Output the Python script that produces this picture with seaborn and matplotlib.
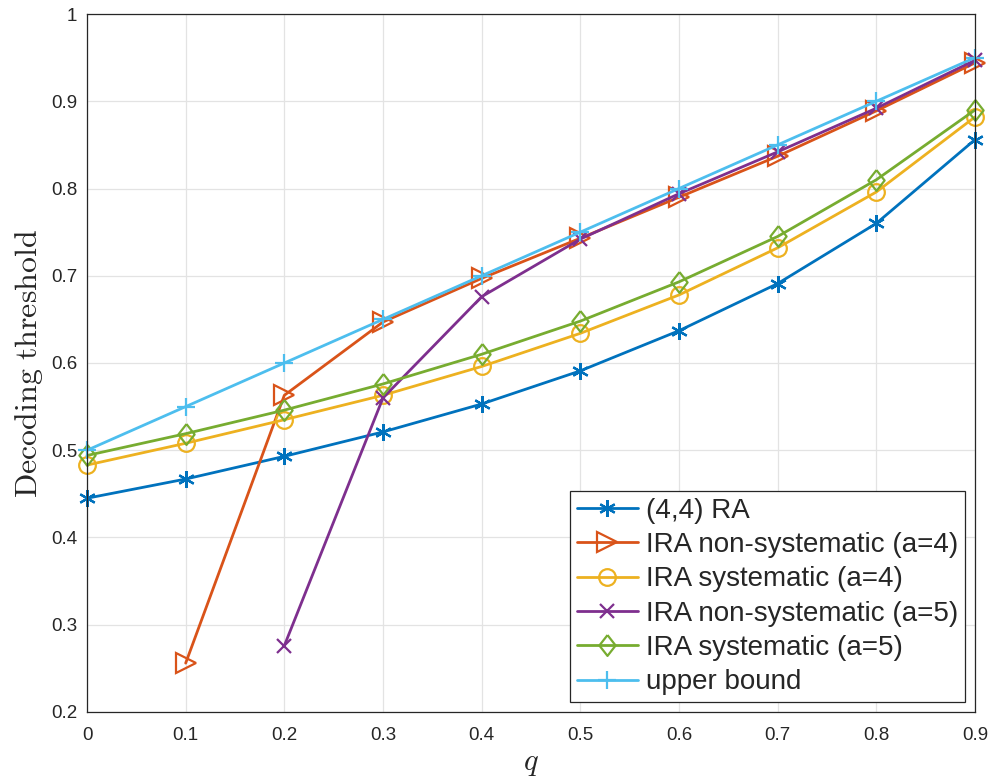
import matplotlib
matplotlib.use("Agg")
import matplotlib.pyplot as plt
import seaborn as sns
import numpy as np

# threshold values
q = [0.0, 0.1, 0.2, 0.3, 0.4, 0.5, 0.6, 0.7, 0.8, 0.9]
ra_44 = [0.445, 0.467, 0.493, 0.521, 0.553, 0.591, 0.637, 0.691, 0.760, 0.856]
q_nonsys4 = [0.1, 0.2, 0.3, 0.4, 0.5, 0.6, 0.7, 0.8, 0.9]
ira_nonsys4 = [0.256, 0.563, 0.647, 0.697, 0.743, 0.790, 0.837, 0.889, 0.944]
ira_sys4 = [0.483, 0.508, 0.535, 0.563, 0.596, 0.634, 0.678, 0.732, 0.796, 0.882]
q_nonsys5 = [0.2, 0.3, 0.4, 0.5, 0.6, 0.7, 0.8, 0.9]
ira_nonsys5 = [0.276, 0.560, 0.676, 0.742, 0.794, 0.842, 0.892, 0.947]
ira_sys5 = [0.494, 0.519, 0.546, 0.576, 0.610, 0.648, 0.693, 0.745, 0.810, 0.890]
upper = [0.50, 0.55, 0.60, 0.65, 0.70, 0.75, 0.80, 0.85, 0.90, 0.95]

labels = ["(4,4) RA", "IRA non-systematic (a=4)", "IRA systematic (a=4)",
          "IRA non-systematic (a=5)", "IRA systematic (a=5)", "upper bound"]
xticks = [0, 0.1, 0.2, 0.3, 0.4, 0.5, 0.6, 0.7, 0.8, 0.9]
xticklabels = ["0", "0.1", "0.2", "0.3", "0.4", "0.5", "0.6", "0.7", "0.8", "0.9"]
yticks = [0.2, 0.3, 0.4, 0.5, 0.6, 0.7, 0.8, 0.9, 1.0]
yticklabels = ["0.2", "0.3", "0.4", "0.5", "0.6", "0.7", "0.8", "0.9", "1"]

sns.set_style("whitegrid")
plt.rcParams["font.family"] = ["Liberation Sans", "DejaVu Sans"]
plt.rcParams["mathtext.fontset"] = "cm"

fig = plt.figure(figsize=(9.9, 7.83), dpi=100)
ax = fig.add_axes([0.0879, 0.0907, 0.8969, 0.8914])

# matlab style diamond is a bit taller than wide
diamond = [(0, 1), (0.78, 0), (0, -1), (-0.78, 0), (0, 1)]

series = [
    (q, ra_44, "#0072BD", (6, 2, 0), 12, True),
    (q_nonsys4, ira_nonsys4, "#D95319", ">", 14, False),
    (q, ira_sys4, "#EDB120", "o", 12, False),
    (q_nonsys5, ira_nonsys5, "#7E2F8E", "x", 9.5, True),
    (q, ira_sys5, "#77AC30", diamond, 15, False),
    (q, upper, "#4DBEEE", "+", 13, True),
]

#draw every curve with seaborn, open markers like matlab
for (x, y, col, mk, ms, filled), lab in zip(series, labels):
    sns.lineplot(x=x, y=y, ax=ax, color=col, marker=mk, markersize=ms,
                 markerfacecolor=col if filled else "none", markeredgecolor=col,
                 markeredgewidth=1.6, linewidth=2.0, label=lab, clip_on=False,
                 zorder=3)

ax.set_xlim(0, 0.9)
ax.set_ylim(0.2, 1.0)
ax.set_xticks(xticks)
ax.set_xticklabels(xticklabels)
ax.set_yticks(yticks)
ax.set_yticklabels(yticklabels)
ax.tick_params(axis="both", labelsize=13.5, colors="#262626", direction="in",
               length=5, width=0.8)
ax.tick_params(axis="x", pad=11)
ax.tick_params(axis="y", pad=7)
ax.grid(True, color="#e3e3e3", linewidth=0.9)
for s in ax.spines.values():
    s.set_color("#262626")
    s.set_linewidth(0.9)
    s.set_zorder(4)

ax.set_xlabel(r"$q$", fontsize=22, labelpad=3)
ax.set_ylabel(r"$\mathrm{Decoding\ threshold}$", fontsize=23, labelpad=4)

leg = ax.legend(loc="lower right", fontsize=20, frameon=True, fancybox=False,
                edgecolor="#262626", framealpha=1, handlelength=2.2,
                handletextpad=0.3, labelspacing=0.3, borderpad=0.25,
                borderaxespad=0.35)
leg.get_frame().set_linewidth(0.9)
leg.set_zorder(5)

plt.savefig("out.png", dpi=100)
